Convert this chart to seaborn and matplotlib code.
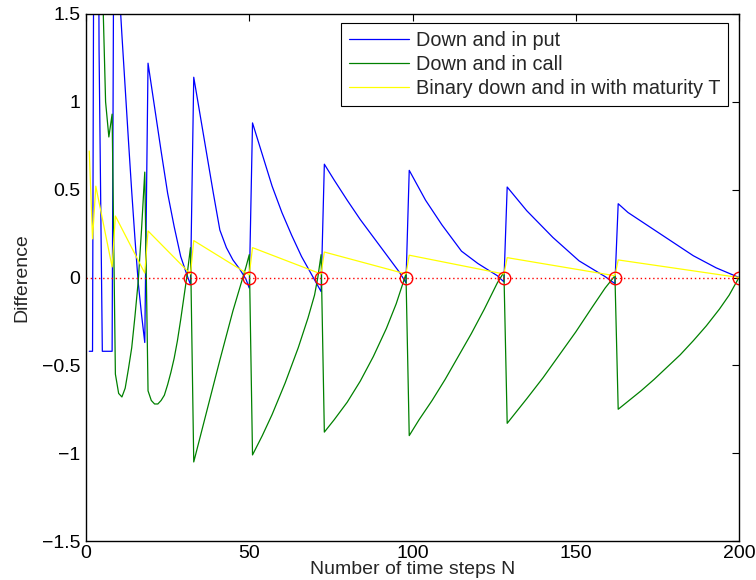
import matplotlib
matplotlib.use("Agg")
import matplotlib.pyplot as plt
import seaborn as sns

# ---- data ----
put_n = [1, 2, 3, 4, 5, 8, 9, 10, 11, 12, 13, 14, 15, 16, 17, 18,
         19, 21, 23, 25, 27, 29, 31, 32,
         33, 35, 37, 39, 41, 43, 45, 47, 49, 50,
         51, 54, 57, 60, 63, 66, 69, 72,
         73, 76, 80, 84, 88, 92, 96, 98,
         99, 104, 109, 115, 120, 126, 128,
         129, 135, 143, 151, 159, 162,
         163, 166, 176, 186, 193, 200]
put_v = [-0.42, -0.42, 6.0, 1.3, -0.42, -0.42, 4.4, 1.7, 1.38, 1.08, 0.78, 0.49, 0.22, -0.03, -0.21, -0.37,
         1.22, 0.97, 0.72, 0.48, 0.29, 0.12, 0.01, -0.04,
         1.14, 0.92, 0.70, 0.48, 0.27, 0.17, 0.10, 0.05, -0.01, -0.06,
         0.88, 0.70, 0.52, 0.37, 0.24, 0.12, 0.02, -0.08,
         0.645, 0.555, 0.44, 0.33, 0.23, 0.13, 0.03, -0.03,
         0.61, 0.44, 0.30, 0.15, 0.08, 0.01, -0.025,
         0.515, 0.38, 0.228, 0.095, 0.005, -0.035,
         0.42, 0.37, 0.247, 0.124, 0.055, 0.0]

call_n = [1, 2, 3, 4, 5, 6, 7, 8, 9, 10, 11, 12, 13, 14, 15, 16, 17, 18,
          19, 20, 21, 22, 23, 24, 25, 26, 27, 28, 29, 30, 31, 32,
          33, 37, 41, 45, 49, 50,
          51, 54, 57, 61, 65, 68, 70, 71, 72,
          73, 76, 80, 84, 88, 92, 95, 98,
          99, 102, 106, 110, 114, 118, 122, 126, 128,
          129, 132, 135, 140, 145, 150, 155, 159, 162,
          163, 166, 170, 174, 178, 182, 186, 190, 194, 197, 200]
call_v = [2.8, 2.6, 2.4, 2.2, 1.71, 1.0, 0.8, 0.93, -0.55, -0.66, -0.68, -0.63, -0.52, -0.40, -0.22, -0.02, 0.27, 0.60,
          -0.645, -0.70, -0.72, -0.72, -0.70, -0.67, -0.61, -0.54, -0.46, -0.36, -0.24, -0.11, 0.02, 0.17,
          -1.05, -0.76, -0.47, -0.19, 0.06, 0.13,
          -1.01, -0.90, -0.78, -0.60, -0.40, -0.23, -0.10, 0.0, 0.13,
          -0.88, -0.81, -0.71, -0.59, -0.45, -0.29, -0.15, 0.02,
          -0.90, -0.81, -0.70, -0.58, -0.45, -0.32, -0.18, -0.03, 0.03,
          -0.83, -0.76, -0.69, -0.57, -0.44, -0.31, -0.17, -0.06, 0.01,
          -0.75, -0.705, -0.645, -0.58, -0.51, -0.44, -0.36, -0.275, -0.18, -0.10, 0.0]

bin_n = [1, 2, 3, 8, 9, 18, 19, 32, 33, 50, 51, 72, 73, 98, 99, 128, 129, 162, 163, 200]
bin_v = [0.72, 0.22, 0.52, 0.06, 0.35, 0.025, 0.265, 0.02, 0.21, 0.015, 0.17, 0.02,
         0.145, 0.02, 0.127, 0.02, 0.113, 0.01, 0.10, 0.0]

circle_n = [32, 50, 72, 98, 128, 162, 200]
circle_v = [0, 0, 0, 0, 0, 0, 0]

labels = ["Down and in put", "Down and in call", "Binary down and in with maturity T"]
xticks = [0, 50, 100, 150, 200]
yticks = [-1.5, -1, -0.5, 0, 0.5, 1, 1.5]
ytick_labels = ["\u22121.5", "\u22121", "\u22120.5", "0", "0.5", "1", "1.5"]

# ---- style ----
sns.set_theme(style="white")
plt.rcParams['font.family'] = ['Liberation Sans', 'DejaVu Sans']

W, H = 756, 580
fig = plt.figure(figsize=(W / 100, H / 100), dpi=100)
ax = fig.add_axes([86 / W, 1 - 541 / H, (739 - 86) / W, (541 - 14) / H])

lw = 0.9
sns.lineplot(x=put_n, y=put_v, color="#0000ff", lw=lw, label=labels[0],
             estimator=None, sort=False, ax=ax)
sns.lineplot(x=call_n, y=call_v, color="#008000", lw=lw, label=labels[1],
             estimator=None, sort=False, ax=ax)
sns.lineplot(x=bin_n, y=bin_v, color="#ffff00", lw=lw, label=labels[2],
             estimator=None, sort=False, ax=ax)

ax.plot([0, 200], [0, 0], linestyle=(0, (1, 2)), color="red", lw=1.0)
ax.plot(circle_n, circle_v, "o", mfc="none", mec="red", ms=9, mew=1.0)

ax.set_xlim(0, 200)
ax.set_ylim(-1.5, 1.5)
ax.set_xticks(xticks)
ax.set_xticklabels([str(t) for t in xticks])
ax.set_yticks(yticks)
ax.set_yticklabels(ytick_labels)
ax.tick_params(direction="in", top=True, right=True, length=5, width=0.8,
               labelsize=14, colors="black", pad=4)
ax.tick_params(axis="x", pad=3)
for s in ax.spines.values():
    s.set_color("black")
    s.set_linewidth(1.0)

ax.set_xlabel("Number of time steps N", fontsize=14, labelpad=-1)
ax.set_ylabel("Difference", fontsize=14, labelpad=8)

handles = ax.get_lines()[:3]
leg = ax.legend(handles=handles, labels=labels, loc="upper right",
                bbox_to_anchor=(728 / W, 1 - 23 / H), bbox_transform=fig.transFigure,
                frameon=True, fancybox=False, edgecolor="black", framealpha=1,
                fontsize=14.3, handlelength=3.0, handletextpad=0.35, borderpad=0.4,
                labelspacing=0.25, borderaxespad=0)
leg.get_frame().set_linewidth(0.8)

fig.savefig("out.png", dpi=100)
